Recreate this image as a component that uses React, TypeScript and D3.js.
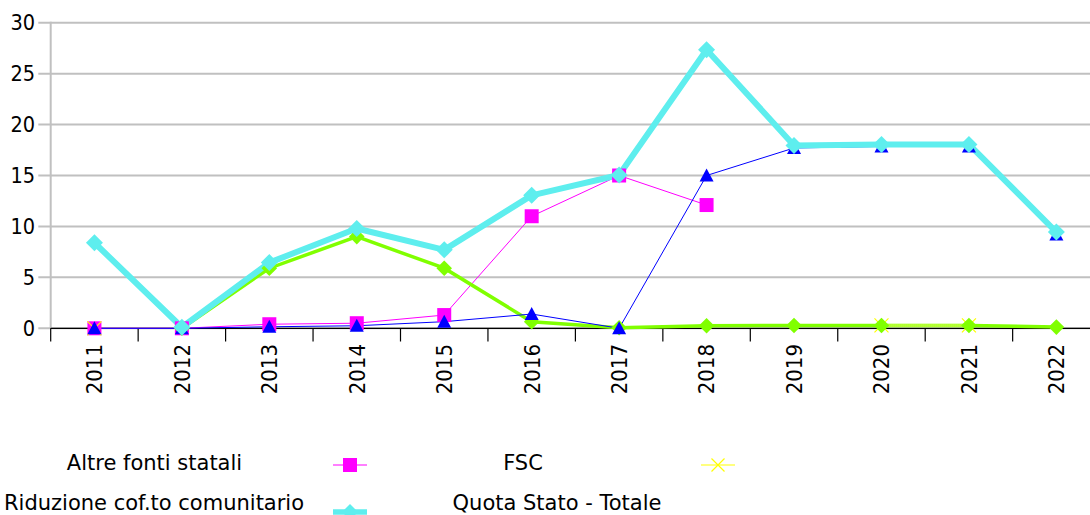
import React from "react";
import * as d3 from "d3";

const years = ["2011", "2012", "2013", "2014", "2015", "2016", "2017", "2018", "2019", "2020", "2021", "2022"];
const yTicks = [0, 5, 10, 15, 20, 25, 30];

const altreFontiStatali: (number | null)[] = [0, 0, 0.4, 0.5, 1.3, 11.0, 15.0, 12.1, null, null, null, null];
const fsc: (number | null)[] = [0, null, null, null, null, null, null, null, null, 0.28, 0.28, null];
const riduzioneCofto: (number | null)[] = [8.4, 0.1, 6.45, 9.8, 7.7, 13.05, 15.05, 27.35, 17.95, 18.05, 18.05, 9.45];
const serieBlu: (number | null)[] = [0, 0, 0.15, 0.25, 0.65, 1.4, 0, 15.0, 17.7, 17.85, 17.85, 9.2];
const serieVerde: (number | null)[] = [null, 0, 5.9, 9.0, 5.9, 0.65, 0.05, 0.25, 0.28, 0.28, 0.28, 0.12];

const W = 1090;
const H = 515;
const FONT_NUM = "'DejaVu Sans Condensed', 'DejaVu Sans', sans-serif";
const FONT_TXT = "'DejaVu Sans', sans-serif";

const x = d3.scaleBand<string>().domain(years).range([50.7, 1100.1]).paddingInner(0).paddingOuter(0);
const y = d3.scaleLinear().domain([0, 30]).range([328.3, 22.7]);
const cx = (i: number) => (x(years[i]) as number) + x.bandwidth() / 2;

type Pt = { i: number; v: number | null };
const pts = (arr: (number | null)[]): Pt[] => arr.map((v, i) => ({ i, v }));
const lineGen = d3
  .line<Pt>()
  .defined((d) => d.v !== null)
  .x((d) => cx(d.i))
  .y((d) => y(d.v as number));

const square = (px: number, py: number, s: number) => `M${px - s},${py - s}H${px + s}V${py + s}H${px - s}Z`;
const diamond = (px: number, py: number, s: number) => `M${px},${py - s}L${px + s},${py}L${px},${py + s}L${px - s},${py}Z`;
const triangle = (px: number, py: number, s: number) => `M${px},${py - s}L${px + s},${py + s * 0.85}L${px - s},${py + s * 0.85}Z`;
const cross = (px: number, py: number, s: number) => `M${px - s},${py - s}L${px + s},${py + s}M${px + s},${py - s}L${px - s},${py + s}`;

export default function App() {
  const defined = (arr: (number | null)[]) => pts(arr).filter((d) => d.v !== null);
  return (
    <svg width={W} height={H} style={{ position: "absolute", left: 0, top: 0, background: "#fff" }}>
      <rect width={W} height={H} fill="#fff" />
      {/* grid */}
      {yTicks.map((t) => (
        <line key={t} x1={38.3} x2={1100} y1={y(t)} y2={y(t)} stroke="#c0c0c0" strokeWidth={2} />
      ))}
      <line x1={50.7} x2={50.7} y1={y(30) - 1} y2={y(0)} stroke="#c0c0c0" strokeWidth={2} />
      {yTicks.map((t) => (
        <text key={t} x={35} y={y(t)} dy="0.36em" textAnchor="end" fontSize={21.5} fill="#000" fontFamily={FONT_NUM}>
          {t}
        </text>
      ))}
      {/* x axis */}
      <line x1={50.7} x2={1100} y1={y(0)} y2={y(0)} stroke="#000" strokeWidth={1.2} />
      {years.map((yr) => (
        <line key={yr} x1={x(yr) as number} x2={x(yr) as number} y1={y(0)} y2={341.5} stroke="#000" strokeWidth={1.2} />
      ))}
      {years.map((yr, i) => (
        <text
          key={yr}
          transform={`translate(${cx(i)},344) rotate(-90)`}
          textAnchor="end"
          dy="0.36em"
          fontSize={22}
          fill="#000"
          fontFamily={FONT_NUM}
        >
          {yr}
        </text>
      ))}
      {/* lines */}
      <path d={lineGen(pts(altreFontiStatali)) || ""} fill="none" stroke="#ff00ff" strokeWidth={1} />
      <path d={lineGen(pts(serieVerde)) || ""} fill="none" stroke="#80ff00" strokeWidth={3.5} />
      <path d={lineGen(pts(fsc)) || ""} fill="none" stroke="#ffff80" strokeWidth={3.5} strokeDasharray="1 1" opacity={0.8} />
      <path d={lineGen(pts(serieBlu)) || ""} fill="none" stroke="#0000ff" strokeWidth={1} />
      <path d={lineGen(pts(riduzioneCofto)) || ""} fill="none" stroke="#5eeeee" strokeWidth={6} strokeLinejoin="round" />
      {/* markers */}
      {defined(altreFontiStatali).map((d) => (
        <path key={d.i} d={square(cx(d.i), y(d.v as number), 7)} fill="#ff00ff" />
      ))}
      {defined(fsc).map((d) => (
        <path key={d.i} d={cross(cx(d.i), y(d.v as number), 7)} stroke="#ffff00" strokeWidth={1.2} fill="none" />
      ))}
      {defined(serieVerde).map((d) => (
        <path key={d.i} d={diamond(cx(d.i), y(d.v as number), 7.8)} fill="#80ff00" />
      ))}
      {defined(serieBlu).map((d) => (
        <path key={d.i} d={triangle(cx(d.i), y(d.v as number), 7)} fill="#0000ff" />
      ))}
      {defined(riduzioneCofto).map((d) => (
        <path key={d.i} d={diamond(cx(d.i), y(d.v as number), 8.5)} fill="#5eeeee" />
      ))}
      {/* legend */}
      <g fontFamily={FONT_TXT} fontSize={21} fill="#000">
        <text x={154.5} y={463} dy="0.35em" textAnchor="middle">Altre fonti statali</text>
        <text x={523} y={463} dy="0.35em" textAnchor="middle">FSC</text>
        <text x={154} y={503} dy="0.35em" textAnchor="middle">Riduzione cof.to comunitario</text>
        <text x={557} y={503} dy="0.35em" textAnchor="middle">Quota Stato - Totale</text>
      </g>
      <line x1={333} x2={367} y1={465} y2={465} stroke="#ff00ff" strokeWidth={1.2} />
      <path d={square(350, 465, 7)} fill="#ff00ff" />
      <line x1={701} x2={735} y1={465} y2={465} stroke="#ffff00" strokeWidth={1.2} />
      <path d={cross(718, 465, 6.5)} stroke="#ffff00" strokeWidth={1.2} fill="none" />
      <line x1={333} x2={367} y1={512} y2={512} stroke="#5eeeee" strokeWidth={5.5} />
      <path d={diamond(350, 512, 8)} fill="#5eeeee" />
    </svg>
  );
}
